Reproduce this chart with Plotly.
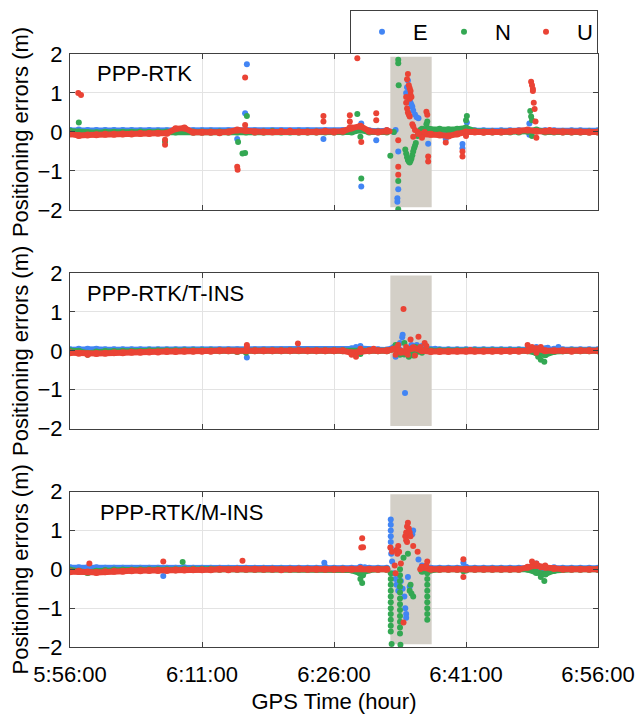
import plotly.graph_objects as go

# ---------------- data ----------------
# time in minutes after 5:56:00
T_MIN = list(range(0, 61))
X_TICK_VALS = [0, 15, 30, 45, 60]
X_TICK_TEXT = ["5:56:00", "6:11:00", "6:26:00", "6:41:00", "6:56:00"]
Y_TICK_VALS = [-2, -1, 0, 1, 2]
PANEL_LABELS = ["PPP-RTK", "PPP-RTK/T-INS", "PPP-RTK/M-INS"]
COMPONENTS = ["E", "N", "U"]
SHADE_START, SHADE_END = 36.4, 41.1

# ---- Panel 1: PPP-RTK ----
E1_BASE = [0.04,0.05,0.04,0.04,0.04,0.04,0.04,0.04,0.03,0.04,0.03,
           0.03,0.04,0.05,0.03,0.03,0.03,0.02,0.03,0.02,0.03,
           0.03,0.02,0.03,0.03,0.02,0.03,0.03,0.02,0.03,0.02,
           0.03,0.05,0.08,0.03,0.02,0.03,None,None,None,0.02,
           0.02,0.0,-0.02,0.0,0.05,0.03,0.03,0.02,0.03,0.03,
           0.03,0.04,0.03,0.03,0.03,0.02,0.03,0.03,0.02,0.03]
N1_BASE = [0.02,0.0,-0.02,-0.02,-0.01,-0.01,-0.01,-0.01,0.0,-0.01,0.0,
           0.0,0.0,0.02,0.0,0.0,0.0,0.0,0.0,0.0,0.0,
           0.0,0.0,0.01,0.0,0.0,0.0,0.0,0.0,0.0,0.0,
           0.0,0.0,0.05,0.0,0.0,0.0,None,None,None,0.07,
           0.06,0.07,0.06,0.07,0.1,0.02,0.0,0.0,0.0,0.0,
           0.0,0.02,0.05,0.0,0.0,0.0,0.0,0.0,0.0,0.0]
U1_BASE = [-0.05,-0.09,-0.08,-0.07,-0.06,-0.06,-0.05,-0.05,-0.04,-0.04,-0.03,
           -0.03,0.08,0.1,-0.01,-0.01,-0.01,-0.02,0.0,0.05,0.03,
           0.0,0.0,0.0,0.01,0.02,0.0,0.0,0.0,0.02,0.0,
           0.02,0.1,0.15,0.02,0.0,0.02,None,None,None,-0.06,
           -0.06,-0.08,-0.1,-0.05,0.0,0.0,-0.01,0.0,0.0,0.01,
           0.02,0.05,0.02,0.02,0.01,0.0,0.0,0.0,-0.01,0.0]

E1_OUT_T = [20.1,19.9,19.0,28.8,33.1,33.1,34.8,36.8,37.0,37.3,37.3,37.2,37.2,
            38.4,38.3,38.2,38.3,38.5,38.6,38.7,38.8,38.9,39.0,39.2,39.4,39.6,
            39.8,40.0,40.2,40.5,40.7,42.7,44.6,44.6,45.1,52.2,52.2]
E1_OUT_V = [1.74,0.48,-0.18,-0.18,0.22,-1.40,-0.21,0.0,0.05,-0.5,-1.47,-1.7,-1.79,
            1.32,1.15,1.0,0.98,0.9,0.8,0.75,0.7,0.65,0.55,0.45,0.38,0.35,
            -0.05,0.0,-0.05,0.05,-0.3,-0.18,-0.31,-0.42,0.24,0.22,-0.07]
N1_OUT_T = [1.0,10.8,19.9,19.6,20.1,19.1,32.65,33.0,33.1,36.4,36.8,37.3,37.3,37.35,37.3,37.3,
            38.1,38.2,38.3,38.4,38.5,38.6,38.7,38.8,38.9,39.0,39.1,39.2,39.3,39.5,
            39.8,40.0,40.2,40.5,40.6,40.8,45.1,45.0,52.3,52.4,52.5,52.5]
N1_OUT_V = [0.24,-0.25,-0.54,-0.55,0.41,-0.26,0.46,-0.12,-1.19,-0.61,0.0,1.85,1.76,1.2,-1.26,-1.98,
            -0.45,-0.55,-0.65,-0.72,-0.76,-0.78,-0.74,-0.68,-0.6,-0.5,-0.42,-0.35,-0.28,-0.1,
            0.05,0.05,0.05,0.2,0.27,0.08,0.41,0.3,0.54,0.4,0.3,-0.1]
U1_OUT_T = [0.94,1.25,10.8,10.8,19.9,19.9,19.0,19.05,28.8,28.8,31.8,31.8,31.8,32.65,33.1,
            34.8,34.8,36.0,36.3,37.3,37.3,37.3,
            38.4,38.3,38.5,38.6,38.7,38.7,38.8,38.6,38.2,38.2,38.3,38.4,38.6,38.5,
            38.9,39.0,39.0,39.2,39.5,39.6,40.0,40.3,40.5,40.6,40.7,40.7,40.8,41.0,
            42.7,44.6,44.6,45.0,52.4,52.5,52.6,52.6,52.7,52.8,52.9,53.0,54.5]
U1_OUT_V = [1.0,0.95,-0.2,-0.33,1.40,0.18,-0.89,-0.97,0.41,0.27,0.43,0.27,0.12,1.89,-0.26,
            0.48,0.3,0.05,0.02,-0.21,-0.89,-1.1,
            1.49,1.35,1.2,1.12,1.05,0.95,0.9,0.85,0.9,0.75,0.6,0.5,0.4,0.45,
            0.2,0.15,-0.12,0.05,0.0,-0.05,-0.15,0.0,0.52,0.44,-0.63,-0.76,-0.05,-0.05,
            -0.27,-0.5,-0.63,-0.1,1.29,1.2,1.1,1.05,0.75,0.59,0.27,-0.15,0.05]

# ---- Panel 2: PPP-RTK/T-INS ----
E2_BASE = [0.03,0.04,0.04,0.04,0.03,0.03,0.03,0.03,0.03,0.03,0.03,
           0.03,0.03,0.03,0.03,0.03,0.03,0.03,0.03,0.03,0.02,
           0.03,0.03,0.03,0.03,0.03,0.03,0.03,0.03,0.03,0.03,
           0.03,0.05,0.06,0.03,0.03,0.02,0.1,-0.05,0.1,0.05,
           0.03,0.03,0.03,0.03,0.03,0.03,0.03,0.03,0.03,0.03,
           0.03,0.03,0.04,0.05,0.04,0.03,0.03,0.03,0.03,0.03]
N2_BASE = [0.0,-0.01,-0.06,-0.03,-0.02,-0.02,-0.01,-0.01,-0.01,0.0,0.0,
           0.0,0.0,0.0,0.0,0.0,0.0,0.0,0.0,-0.02,0.0,
           0.0,0.0,0.0,0.0,0.0,0.0,0.0,0.0,0.0,0.0,
           0.0,-0.02,-0.03,0.0,0.0,0.0,0.05,-0.08,-0.05,0.0,
           0.0,0.0,0.0,0.0,0.0,0.0,0.0,0.0,0.0,0.0,
           0.0,0.0,-0.05,-0.1,-0.02,0.0,0.0,0.0,0.0,0.0]
U2_BASE = [-0.05,-0.06,-0.08,-0.07,-0.06,-0.05,-0.05,-0.04,-0.04,-0.03,-0.03,
           -0.02,-0.02,-0.01,-0.01,-0.01,-0.01,0.0,0.0,-0.01,0.0,
           0.0,0.0,0.0,0.0,0.0,0.01,0.0,0.0,0.0,0.0,
           0.0,-0.05,-0.02,0.0,0.0,0.0,0.05,-0.03,0.08,0.0,
           -0.02,-0.02,-0.02,-0.01,-0.01,-0.01,-0.01,-0.01,-0.01,-0.01,
           -0.01,0.0,0.05,0.0,0.0,0.0,-0.01,0.0,0.0,0.0]

E2_OUT_T = [20.1,32.5,33.0,36.8,37.0,37.5,37.75,37.8,38.07,38.5,38.8,39.4,40.0,41.5,53.0,54.3,55.5]
E2_OUT_V = [-0.17,0.1,0.12,0.1,-0.15,0.2,0.35,0.41,-1.08,-0.1,0.15,0.15,0.12,0.05,0.1,0.08,0.1]
N2_OUT_T = [2.0,20.0,33.0,37.0,37.5,38.0,38.5,39.0,39.3,40.0,53.2,53.5,53.9]
N2_OUT_V = [-0.1,-0.05,-0.08,0.15,-0.1,0.2,-0.15,-0.12,0.1,-0.05,-0.15,-0.23,-0.28]
U2_OUT_T = [2.0,20.1,20.1,25.9,32.0,32.5,33.0,34.5,36.7,37.0,37.3,37.6,37.9,38.2,38.4,
            38.7,38.9,39.2,39.6,39.8,40.3,40.5,45.5,52.0,52.5,53.0,53.5]
U2_OUT_V = [-0.1,0.15,0.1,0.19,-0.1,-0.15,0.05,0.05,0.05,-0.1,0.15,-0.05,1.07,0.1,-0.1,
            0.29,0.05,-0.12,0.36,0.1,0.2,0.12,0.02,0.15,0.1,-0.05,0.1]

# ---- Panel 3: PPP-RTK/M-INS ----
E3_BASE = [0.04,0.04,0.04,0.04,0.03,0.03,0.03,0.03,0.03,0.03,0.03,
           0.03,0.03,0.04,0.03,0.03,0.03,0.03,0.03,0.03,0.03,
           0.03,0.03,0.03,0.03,0.03,0.03,0.03,0.03,0.05,0.03,
           0.03,0.03,0.05,0.03,0.03,0.03,None,None,None,0.03,
           0.03,0.03,0.03,0.03,0.05,0.03,0.03,0.03,0.03,0.03,
           0.03,0.03,0.05,0.05,0.04,0.03,0.03,0.03,0.03,0.03]
N3_BASE = [-0.02,-0.05,-0.08,-0.05,-0.03,-0.02,-0.02,-0.02,-0.01,-0.01,-0.01,
           -0.01,-0.01,0.0,0.0,0.0,0.0,0.0,0.0,0.0,0.0,
           0.0,0.0,0.0,0.0,0.0,0.0,0.0,0.0,0.0,0.0,
           0.0,-0.02,-0.1,-0.02,0.0,0.0,None,None,None,-0.05,
           -0.02,0.0,0.0,0.0,-0.02,0.0,0.0,0.0,0.0,0.0,
           0.0,0.0,-0.08,-0.12,-0.03,0.0,0.0,0.0,0.0,0.0]
U3_BASE = [-0.06,-0.05,-0.07,-0.08,-0.06,-0.05,-0.05,-0.04,-0.04,-0.03,-0.03,
           -0.03,-0.02,-0.02,-0.01,-0.01,-0.01,0.0,-0.01,0.0,0.0,
           0.0,0.0,0.0,-0.01,0.0,0.01,0.0,0.0,0.0,0.0,
           0.0,0.0,0.02,0.0,0.0,0.0,None,None,None,0.05,
           0.0,0.0,0.0,0.0,0.0,0.0,0.0,0.0,0.0,0.0,
           0.0,0.05,0.1,0.05,0.02,0.0,0.0,0.0,0.0,0.0]

E3_OUT_T = [10.6,28.9,33.5,36.45,36.45,36.45,36.45,36.45,36.45,36.5,36.6,36.8,37.0,37.1,37.3,
            37.6,37.8,38.0,38.1,38.2,38.2,38.4,38.6,38.9,39.0,39.6,40.0,44.7,53.0]
E3_OUT_V = [-0.17,0.17,0.05,1.28,1.15,1.0,0.85,0.7,0.55,0.4,0.2,-0.1,-0.25,-0.4,-0.55,
            -0.3,-0.5,-0.7,-1.0,-1.15,-1.25,-0.2,-0.45,0.9,1.0,0.25,0.1,0.17,0.15]
N3_OUT_T = [12.8,33.0,33.2,33.3,
            36.45,36.45,36.45,36.45,36.45,36.45,36.45,36.45,36.45,36.45,36.45,36.55,
            37.5,37.5,37.5,37.5,37.5,37.5,37.5,37.5,37.5,37.5,37.5,37.5,37.55,
            37.9,38.4,38.6,38.8,39.0,38.7,
            40.6,40.6,40.6,40.6,40.6,40.6,40.6,40.6,40.6,
            44.7,53.5,53.9]
N3_OUT_V = [0.19,-0.25,-0.35,-0.15,
            -0.1,-0.25,-0.4,-0.55,-0.7,-0.85,-1.0,-1.15,-1.3,-1.45,-1.6,-1.92,
            0.0,-0.15,-0.3,-0.45,-0.6,-0.75,-0.9,-1.05,-1.2,-1.35,-1.5,-1.65,-1.94,
            0.3,0.4,-0.55,-0.62,-0.7,-0.4,
            -0.1,-0.25,-0.4,-0.55,-0.7,-0.85,-1.0,-1.15,-1.3,
            -0.05,-0.2,-0.3]
U3_OUT_T = [2.2,10.6,19.6,33.1,33.2,33.3,36.4,36.6,36.9,37.0,37.1,37.2,37.3,37.4,37.6,37.9,
            38.1,38.2,38.2,38.3,38.3,38.4,38.5,38.6,38.7,39.0,39.5,39.8,40.0,40.5,40.6,
            44.7,44.7,52.5,53.0,53.5,54.0]
U3_OUT_V = [0.15,0.2,0.22,0.56,0.8,0.57,0.56,0.45,0.1,-0.1,0.5,0.4,0.6,0.45,0.15,-1.37,
            0.85,0.95,0.75,1.1,0.7,1.2,1.05,0.95,0.85,0.6,0.45,0.0,0.05,0.1,0.2,
            0.26,-0.2,0.2,0.15,0.05,0.1]

BASES = [[E1_BASE, N1_BASE, U1_BASE], [E2_BASE, N2_BASE, U2_BASE], [E3_BASE, N3_BASE, U3_BASE]]
OUTS = [[(E1_OUT_T, E1_OUT_V), (N1_OUT_T, N1_OUT_V), (U1_OUT_T, U1_OUT_V)],
        [(E2_OUT_T, E2_OUT_V), (N2_OUT_T, N2_OUT_V), (U2_OUT_T, U2_OUT_V)],
        [(E3_OUT_T, E3_OUT_V), (N3_OUT_T, N3_OUT_V), (U3_OUT_T, U3_OUT_V)]]

# ---------------- style ----------------
COLORS = {"E": "#4285F4", "N": "#34A853", "U": "#EA4335"}
FONT = "Liberation Sans, Arial, sans-serif"
FS = 22
AX_COLOR = "#404040"
GRID = "#e3e3e3"
DOMAINS = [[0.737, 1.0], [0.368, 0.631], [0.0, 0.262]]

fig = go.Figure()
for p in range(3):
    xa = "x" if p == 0 else f"x{p+1}"
    ya = "y" if p == 0 else f"y{p+1}"
    for c, comp in enumerate(COMPONENTS):
        col = COLORS[comp]
        fig.add_trace(go.Scatter(
            x=T_MIN, y=BASES[p][c], xaxis=xa, yaxis=ya, mode="lines+markers",
            line=dict(color=col, width=6), marker=dict(color=col, size=7),
            showlegend=False, hoverinfo="skip"))
        ot, ov = OUTS[p][c]
        fig.add_trace(go.Scatter(
            x=ot, y=ov, xaxis=xa, yaxis=ya, mode="markers",
            marker=dict(color=col, size=6), name=comp,
            showlegend=(p == 0), legendrank=c))
    fig.add_shape(type="rect", xref=xa, yref=ya, x0=SHADE_START, x1=SHADE_END,
                  y0=-1.93, y1=1.93, fillcolor="#d3cfc7", line=dict(width=0),
                  layer="between")
    fig.add_annotation(text=PANEL_LABELS[p], xref=f"{xa} domain", yref=f"{ya} domain",
                       x=[0.047, 0.028, 0.053][p], y=[0.872, 0.87, 0.865][p],
                       xanchor="left", yanchor="middle", showarrow=False,
                       font=dict(family=FONT, size=FS, color="black"))

layout = dict(
    width=635, height=714,
    margin=dict(l=70, r=37, t=54, b=67, autoexpand=False),
    paper_bgcolor="white", plot_bgcolor="white",
    font=dict(family=FONT, size=FS, color="black"),
    legend=dict(orientation="h", xref="container", yref="container",
                x=598/635, xanchor="right", y=1 - 10/714, yanchor="top",
                bordercolor=AX_COLOR, borderwidth=1, itemwidth=52,
                entrywidth=15, entrywidthmode="pixels",
                font=dict(family=FONT, size=FS, color="black"),
                traceorder="normal"),
)
for p in range(3):
    xkey = "xaxis" if p == 0 else f"xaxis{p+1}"
    ykey = "yaxis" if p == 0 else f"yaxis{p+1}"
    ya = "y" if p == 0 else f"y{p+1}"
    layout[xkey] = dict(
        range=[0, 60], domain=[0, 1], anchor=ya, automargin=False,
        tickvals=X_TICK_VALS, ticktext=X_TICK_TEXT, showticklabels=(p == 2),
        ticks="inside", ticklen=5, tickcolor=AX_COLOR,
        showline=True, linecolor=AX_COLOR, linewidth=1, mirror="ticks",
        showgrid=True, gridcolor=GRID, zeroline=False,
        ticklabelstandoff=8,
        tickfont=dict(family=FONT, size=FS, color="black"),
    )
    if p == 2:
        layout[xkey]["title"] = dict(text="GPS Time (hour)", standoff=7,
                                     font=dict(family=FONT, size=FS, color="black"))
    else:
        layout[xkey]["matches"] = "x3"
    layout[ykey] = dict(
        range=[-2, 2], domain=DOMAINS[p], anchor="x" if p == 0 else f"x{p+1}",
        automargin=False,
        tickvals=Y_TICK_VALS, ticks="inside", ticklen=5, tickcolor=AX_COLOR,
        showline=True, linecolor=AX_COLOR, linewidth=1, mirror="ticks",
        showgrid=True, gridcolor=GRID, zeroline=False,
        ticklabelstandoff=2,
        tickfont=dict(family=FONT, size=FS, color="black"),
        title=dict(text="Positioning errors (m)", standoff=2,
                   font=dict(family=FONT, size=FS, color="black")),
    )
fig.update_layout(**layout)
fig.write_html("out.html")
